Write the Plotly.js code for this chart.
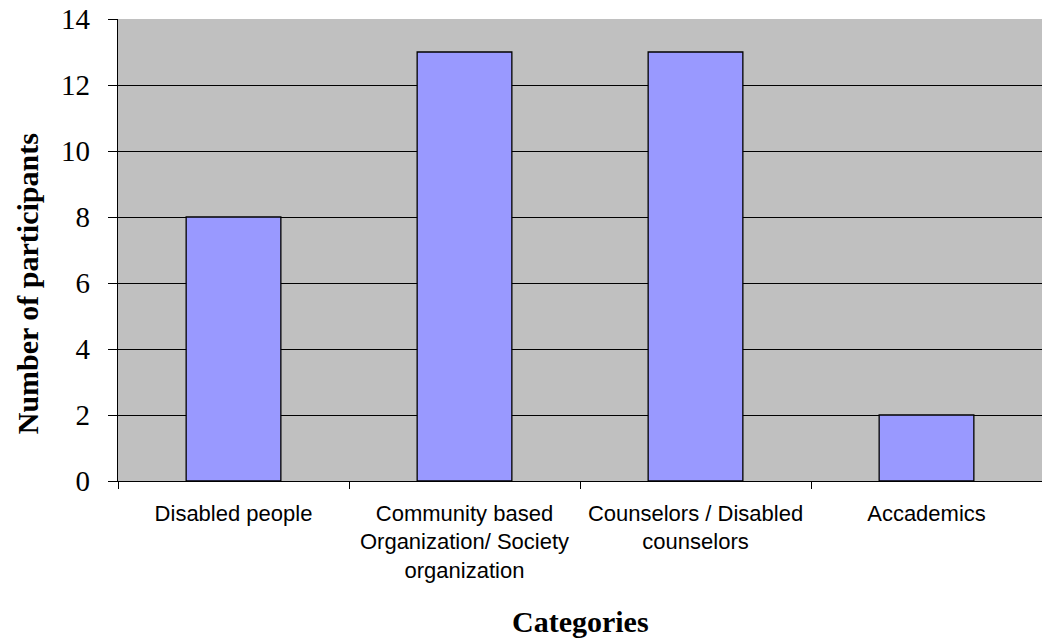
<!DOCTYPE html>
<html>
<head>
<meta charset="utf-8">
<script src="https://cdn.plot.ly/plotly-3.0.1.min.js"></script>
<style>html,body{margin:0;padding:0;background:#fff;}#chart{width:1042px;height:639px;}</style>
</head>
<body>
<div id="chart"></div>
<script>
var categories = ["Disabled people", "Community based<br>Organization/ Society<br>organization", "Counselors / Disabled<br>counselors", "Accademics"];
var participants = [8, 13, 13, 2];
var yTickValues = [0, 2, 4, 6, 8, 10, 12, 14];
var xTitle = "Categories";
var yTitle = "Number of participants";

var trace = {
  type: "bar",
  x: categories,
  y: participants,
  marker: {color: "#9999ff", line: {color: "#000000", width: 1.3}},
  hoverinfo: "none"
};

var layout = {
  width: 1042,
  height: 639,
  margin: {l: 118, r: 0, t: 19, b: 158},
  paper_bgcolor: "#ffffff",
  plot_bgcolor: "#c0c0c0",
  bargap: 0.59,
  showlegend: false,
  xaxis: {
    type: "category",
    showline: true, linecolor: "#000000", linewidth: 1.3,
    ticks: "outside", ticklen: 7, tickcolor: "#000000", tickwidth: 1,
    tickson: "boundaries",
    showgrid: false,
    tickfont: {family: "Liberation Sans, Arial, sans-serif", size: 22, color: "#000000"},
    ticklabelstandoff: 12,
    title: {text: ""}
  },
  yaxis: {
    range: [0, 14],
    tickvals: yTickValues,
    showline: true, linecolor: "#000000", linewidth: 1.3,
    ticks: "outside", ticklen: 9, tickcolor: "#000000", tickwidth: 1,
    showgrid: true, gridcolor: "#000000", gridwidth: 1,
    zeroline: false,
    tickfont: {family: "Liberation Serif, Times New Roman, serif", size: 29, color: "#000000"},
    ticklabelstandoff: 12,
    title: {text: ""}
  },
  annotations: [
    {text: "<b>" + xTitle + "</b>", xref: "paper", yref: "paper", x: 0.5, y: -0.305,
     xanchor: "center", yanchor: "middle", showarrow: false,
     font: {family: "Liberation Serif, Times New Roman, serif", size: 30, color: "#000000"}},
    {text: "<b>" + yTitle + "</b>", xref: "paper", yref: "paper", x: -0.0985, y: 0.428,
     xanchor: "center", yanchor: "middle", showarrow: false, textangle: -90,
     font: {family: "Liberation Serif, Times New Roman, serif", size: 30, color: "#000000"}}
  ]
};

Plotly.newPlot("chart", [trace], layout, {displayModeBar: false, staticPlot: true});
</script>
</body>
</html>
